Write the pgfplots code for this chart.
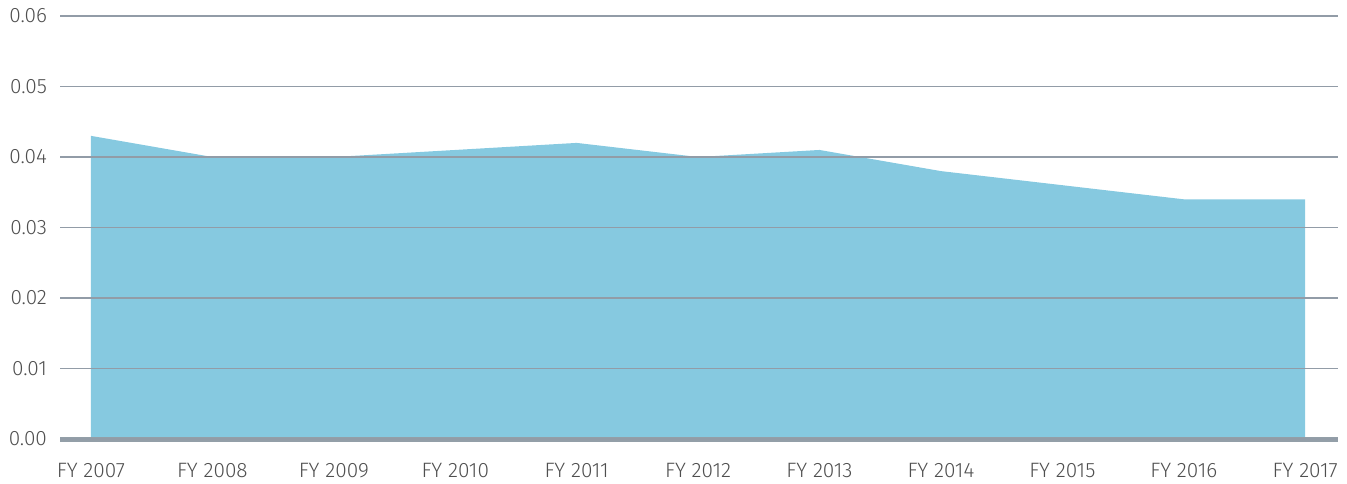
\documentclass[border=0pt]{standalone}
\usepackage{pgfplots}
\pgfplotsset{compat=1.18}
\usepackage{fontspec}
\setmainfont{Fira Sans}[UprightFont={* Light}]
\definecolor{areafill}{HTML}{86C9E0}
\definecolor{gridc}{HTML}{929CA7}
\definecolor{basec}{HTML}{939FA8}
\definecolor{txt}{HTML}{4F4F4F}
\begin{document}
\begin{tikzpicture}
\useasboundingbox (-30pt,-22pt) rectangle (643.5pt,219.5pt);
\begin{axis}[
  at={(0,0)}, anchor=south west,
  scale only axis, width=639pt, height=211.5pt,
  xmin=-0.255, xmax=10.27, ymin=0, ymax=0.06,
  axis line style={draw=none},
  axis on top,
  xtick={0,...,10},
  xticklabels={FY 2007,FY 2008,FY 2009,FY 2010,FY 2011,FY 2012,FY 2013,FY 2014,FY 2015,FY 2016,FY 2017},
  ytick={0,0.01,0.02,0.03,0.04,0.05,0.06},
  scaled y ticks=false,
  /pgf/number format/fixed,
  /pgf/number format/fixed zerofill,
  /pgf/number format/precision=2,
  /pgf/number format/assume math mode=true,
  ymajorgrids, grid style={gridc, line width=0.6pt},
  major tick length=0pt,
  tick label style={font=\fontsize{10.4}{12}\selectfont, text=txt},
  xticklabel style={yshift=-8.5pt},
  yticklabel style={xshift=-3pt},
  clip=false,
]
\addplot[fill=areafill, draw=none] coordinates {
(0,0.043) (1,0.040) (2,0.040) (3,0.041) (4,0.042) (5,0.040) (6,0.041) (7,0.038) (8,0.036) (9,0.034) (10,0.034)
} \closedcycle;
\draw[basec, line width=2.5pt] (rel axis cs:0,0) -- (rel axis cs:1,0);
\end{axis}
\end{tikzpicture}
\end{document}
